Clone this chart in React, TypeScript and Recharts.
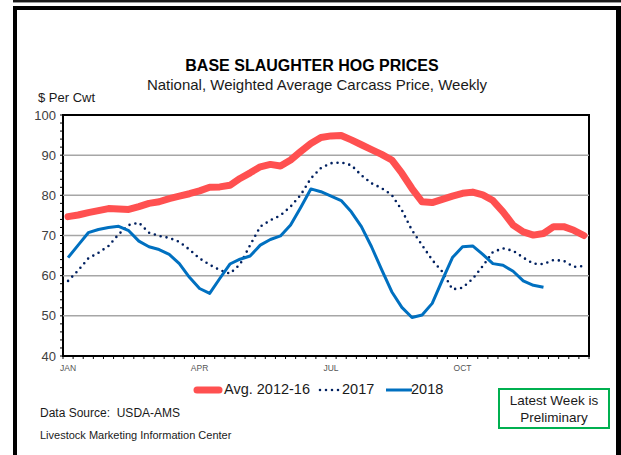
import React from 'react';
import { LineChart, Line, XAxis, YAxis, ReferenceLine, ReferenceArea } from 'recharts';

const FONT = "'Liberation Sans', Arial, sans-serif";

const monthLabels = ['JAN', 'APR', 'JUL', 'OCT'];
const monthTickPositions = [0.5, 13.5, 26.5, 39.5];
const weekTickPositions = Array.from({ length: 53 }, (_, i) => i);
const xTicks = [...weekTickPositions, ...monthTickPositions].sort((a, b) => a - b);
const yTicks = Array.from({ length: 31 }, (_, i) => 40 + i * 2);
const gridValues = [50, 60, 70, 80, 90];

const avg2012_16 = [
  74.7, 75.1, 75.7, 76.2, 76.7, 76.6, 76.5, 77.2, 78.0, 78.4, 79.2, 79.8, 80.4,
  81.1, 82.0, 82.1, 82.5, 84.2, 85.6, 87.1, 87.7, 87.3, 88.8, 90.9, 92.9, 94.4,
  94.8, 94.9, 93.8, 92.6, 91.4, 90.2, 88.8, 85.5, 81.7, 78.4, 78.2, 79.0, 79.8,
  80.5, 80.8, 80.1, 78.7, 75.9, 72.6, 70.9, 70.1, 70.5, 72.2, 72.2, 71.3, 70.0,
];
const y2017 = [
  58.7, 61.3, 64.3, 65.7, 67.4, 70.3, 72.6, 73.2, 70.7, 69.9, 69.4, 68.4, 66.5,
  64.3, 62.7, 61.4, 60.5, 62.8, 67.6, 72.2, 73.8, 75.0, 77.2, 80.1, 84.2, 86.8,
  88.0, 88.2, 87.5, 85.0, 83.0, 81.8, 80.1, 76.3, 71.3, 67.6, 63.9, 61.0, 56.6,
  57.0, 59.2, 62.4, 65.9, 66.8, 66.2, 64.5, 63.0, 62.9, 63.9, 63.7, 62.2, 62.4,
];
const y2018 = [
  64.5, 67.6, 70.7, 71.5, 72.0, 72.3, 71.2, 68.6, 67.2, 66.5, 65.3, 63.0, 59.6,
  56.8, 55.6, 59.3, 62.9, 64.1, 64.9, 67.6, 69.0, 69.9, 72.6, 77.0, 81.6, 80.9,
  79.8, 78.7, 75.9, 72.2, 67.2, 61.5, 56.0, 52.1, 49.6, 50.2, 53.1, 58.9, 64.5,
  67.2, 67.4, 65.3, 63.0, 62.6, 61.1, 58.7, 57.6, 57.1,
];

const data = avg2012_16.map((v, i) => ({
  x: i + 0.5,
  avg: v,
  y2017: y2017[i],
  y2018: i < y2018.length ? y2018[i] : null,
}));

const RED = '#FF5050';
const NAVY = '#002060';
const BLUE = '#0070C0';

const XTick = (props: any) => {
  const { x, y, payload } = props;
  const v = payload.value as number;
  if (Number.isInteger(v)) {
    return <line x1={x} y1={y} x2={x} y2={y + 3} stroke="#000" strokeWidth={1} />;
  }
  const label = monthLabels[monthTickPositions.indexOf(v)] ?? '';
  return (
    <text x={x} y={y + 15} textAnchor="middle" fontSize={8.5} fill="#555555" stroke="none" fontFamily={FONT}>
      {label}
    </text>
  );
};

const Legend2 = () => (
  <div style={{ position: 'absolute', left: 0, top: 380, width: 621, height: 22, fontFamily: FONT, fontSize: 14.5, color: '#1a1a1a' }}>
    <svg style={{ position: 'absolute', left: 192, top: 4 }} width={32} height={12}>
      <line x1={5} y1={6} x2={27} y2={6} stroke={RED} strokeWidth={7} strokeLinecap="round" />
    </svg>
    <span style={{ position: 'absolute', left: 224, top: 1 }}>Avg. 2012-16</span>
    <svg style={{ position: 'absolute', left: 316, top: 4 }} width={28} height={12}>
      <line x1={4} y1={6} x2={25} y2={6} stroke={NAVY} strokeWidth={2.6} strokeDasharray="0 6" strokeLinecap="round" />
    </svg>
    <span style={{ position: 'absolute', left: 342, top: 1 }}>2017</span>
    <svg style={{ position: 'absolute', left: 384, top: 4 }} width={30} height={12}>
      <line x1={2} y1={6} x2={28} y2={6} stroke={BLUE} strokeWidth={3} />
    </svg>
    <span style={{ position: 'absolute', left: 411, top: 1 }}>2018</span>
  </div>
);

export default function App() {
  return (
    <div style={{ position: 'absolute', left: 0, top: 0, width: 621, height: 455, background: '#fff', overflow: 'hidden', fontFamily: FONT }}>
      <div style={{ position: 'absolute', left: 13, top: 0, width: 608, height: 2, background: '#1a1a1a' }} />
      <div style={{ position: 'absolute', left: 13, top: 2, width: 608, height: 1, background: '#9a9a9a' }} />
      <div style={{ position: 'absolute', left: 13, top: 6, width: 608, height: 470, boxSizing: 'border-box', borderLeft: '4px solid #000', borderTop: '4px solid #000', borderRight: '5px solid #000' }} />

      <div style={{ position: 'absolute', left: 0, width: 624, textAlign: 'center', fontWeight: 'bold', fontSize: 16, color: '#000', top: 57 }}>BASE SLAUGHTER HOG PRICES</div>
      <div style={{ position: 'absolute', left: 0, width: 634, textAlign: 'center', fontSize: 15, color: '#1a1a1a', top: 76 }}>National, Weighted Average Carcass Price, Weekly</div>
      <div style={{ position: 'absolute', left: 38, top: 90, fontSize: 13, color: '#1a1a1a' }}>$ Per Cwt</div>

      <div style={{ position: 'absolute', left: 0, top: 0 }}>
        <LineChart width={621} height={455} data={data} margin={{ top: 115, right: 32, bottom: 79, left: 0 }}>
          <XAxis
            xAxisId="main"
            dataKey="x"
            type="number"
            domain={[0, 52]}
            ticks={xTicks}
            tick={<XTick />}
            tickLine={false}
            tickSize={0}
            tickMargin={0}
            height={20}
            axisLine={false}
            interval={0}
            allowDataOverflow
          />
          <YAxis
            yAxisId="left"
            type="number"
            domain={[40, 100]}
            ticks={yTicks}
            interval={0}
            tickFormatter={(v: number) => (v % 10 === 0 ? String(v) : '')}
            tick={{ fontSize: 13, fill: '#404040', fontFamily: FONT }}
            tickSize={3}
            tickMargin={4}
            width={63}
            axisLine={false}
            tickLine={{ stroke: '#000', strokeWidth: 1 }}
          />
          {gridValues.map((g) => (
            <ReferenceLine key={g} xAxisId="main" yAxisId="left" y={g} stroke="#a6a6a6" strokeWidth={1.5} />
          ))}
          <Line xAxisId="main" yAxisId="left" dataKey="avg" type="linear" stroke={RED} strokeWidth={7} dot={false} isAnimationActive={false} strokeLinejoin="round" strokeLinecap="round" />
          <Line xAxisId="main" yAxisId="left" dataKey="y2017" type="linear" stroke={NAVY} strokeWidth={2.6} strokeDasharray="0 6" strokeLinecap="round" dot={false} isAnimationActive={false} />
          <Line xAxisId="main" yAxisId="left" dataKey="y2018" type="linear" stroke={BLUE} strokeWidth={3} dot={false} isAnimationActive={false} strokeLinejoin="round" />
          <ReferenceArea xAxisId="main" yAxisId="left" x1={0} x2={52} y1={40} y2={100} fill="none" stroke="#000" strokeWidth={2} ifOverflow="visible" />
        </LineChart>
      </div>

      <Legend2 />

      <div style={{ position: 'absolute', left: 40, top: 406, fontSize: 12, color: '#1a1a1a' }}>Data Source:&nbsp; USDA-AMS</div>
      <div style={{ position: 'absolute', left: 40, top: 429, fontSize: 11, color: '#1a1a1a' }}>Livestock Marketing Information Center</div>
      <div style={{ position: 'absolute', left: 498, top: 388, width: 112, height: 41, boxSizing: 'border-box', border: '2px solid #00B050', textAlign: 'center', fontSize: 13.5, lineHeight: '17px', paddingTop: 2, color: '#1a1a1a' }}>
        Latest Week is<br />Preliminary
      </div>
    </div>
  );
}
